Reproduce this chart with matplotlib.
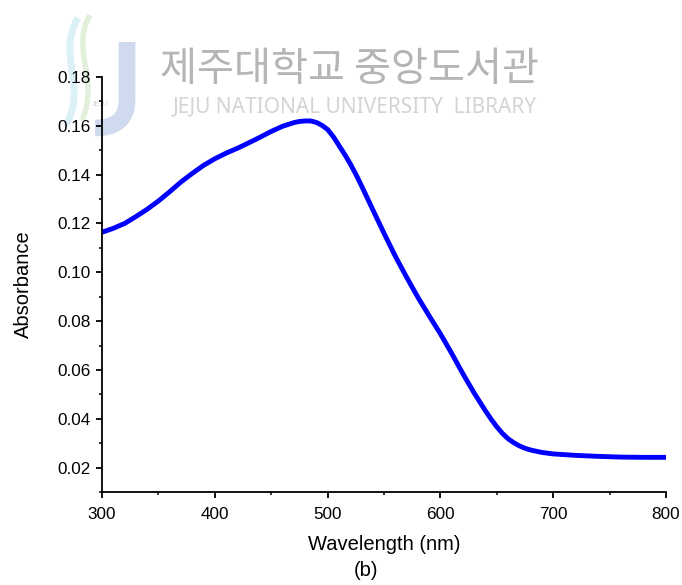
import matplotlib
matplotlib.use("Agg")
import matplotlib.pyplot as plt
from matplotlib.path import Path
from matplotlib.patches import PathPatch
from matplotlib.ticker import MultipleLocator

plt.rcParams['font.family'] = ['Liberation Sans', 'DejaVu Sans']

# Absorption spectrum
wavelength = [300, 310, 320, 330, 340, 350, 360, 370, 380, 390,
              400, 410, 420, 430, 440, 450, 460, 470, 475, 480,
              485, 490, 495, 500, 505, 510, 515, 520, 525, 530,
              540, 550, 560, 570, 580, 590, 600, 610, 620, 630,
              640, 645, 650, 655, 660, 665, 670, 675, 680, 690,
              700, 720, 740, 760, 780, 800]
absorbance = [0.1164, 0.1180, 0.1200, 0.1228, 0.1258, 0.1292, 0.1330, 0.1370, 0.1405, 0.1438,
              0.1465, 0.1488, 0.1508, 0.1530, 0.1553, 0.1577, 0.1598, 0.1613, 0.1618, 0.1620,
              0.1620, 0.1614, 0.1602, 0.1585, 0.1556, 0.1520, 0.1484, 0.1445, 0.1402, 0.1355,
              0.1257, 0.1160, 0.1066, 0.0980, 0.0898, 0.0822, 0.0748, 0.0668, 0.0584, 0.0505,
              0.0432, 0.0398, 0.0367, 0.0340, 0.0318, 0.0302, 0.0289, 0.0279, 0.0272, 0.0262,
              0.0256, 0.0250, 0.0246, 0.0243, 0.0242, 0.0242]

x_ticks = [300, 400, 500, 600, 700, 800]
y_ticks = [0.02, 0.04, 0.06, 0.08, 0.10, 0.12, 0.14, 0.16, 0.18]

W, H = 682, 585
fig = plt.figure(figsize=(W / 100, H / 100), dpi=100)


def fx(px):
    return px / W


def fy(py):
    return 1 - py / H


# Library watermark, drawn behind the axes
wave1 = Path([(fx(78), fy(18)), (fx(56), fy(55)), (fx(88), fy(85)), (fx(66), fy(125))],
             [Path.MOVETO, Path.CURVE4, Path.CURVE4, Path.CURVE4])
wave2 = Path([(fx(90), fy(15)), (fx(70), fy(50)), (fx(100), fy(80)), (fx(82), fy(120))],
             [Path.MOVETO, Path.CURVE4, Path.CURVE4, Path.CURVE4])
j_shape = Path([(fx(127), fy(42)), (fx(127), fy(100)), (fx(127), fy(128)), (fx(95), fy(128))],
               [Path.MOVETO, Path.LINETO, Path.CURVE3, Path.CURVE3])
for p, c, lw in [(wave1, '#dcf0f7', 5), (wave2, '#e2f0db', 4), (j_shape, '#d0daee', 12)]:
    fig.patches.append(PathPatch(p, transform=fig.transFigure, facecolor='none',
                                 edgecolor=c, lw=lw, capstyle='butt', zorder=0))
fig.text(fx(100), fy(104), 'JEJU', fontsize=5, color='#d0d0d0', ha='center', va='center', zorder=0)
fig.text(fx(350), fy(70), '제주대학교 중앙도서관', fontsize=29, color='#b5b5b5',
         ha='center', va='center', family=['Noto Sans CJK KR', 'DejaVu Sans'], zorder=0)
fig.text(fx(355), fy(107), 'JEJU NATIONAL UNIVERSITY  LIBRARY', fontsize=15, color='#d4d4d4',
         ha='center', va='center', family=['Noto Sans', 'DejaVu Sans'], zorder=0)

ax = fig.add_axes([102 / W, 1 - 492 / H, (666 - 102) / W, (492 - 77) / H])
ax.set_zorder(2)
ax.patch.set_alpha(0)

ax.plot(wavelength, absorbance, color='#0000ff', lw=3.5, solid_capstyle='butt')

ax.set_xlim(300, 800)
ax.set_ylim(0.01, 0.18)
ax.set_xticks(x_ticks)
ax.set_yticks(y_ticks)
ax.set_yticklabels([f'{v:.2f}' for v in y_ticks])
ax.xaxis.set_minor_locator(MultipleLocator(50))
ax.yaxis.set_minor_locator(MultipleLocator(0.01))

for side in ['top', 'right']:
    ax.spines[side].set_visible(False)
for side in ['left', 'bottom']:
    ax.spines[side].set_linewidth(1.3)

ax.tick_params(which='major', direction='out', length=4.5, width=1.3, labelsize=12.3, pad=3.5)
ax.tick_params(axis='x', which='major', pad=6.5)
ax.tick_params(which='minor', direction='out', length=2.5, width=1.1)

ax.set_xlabel('Wavelength (nm)', fontsize=14.5, labelpad=9)
ax.set_ylabel('Absorbance', fontsize=14.5, labelpad=18)
fig.text(fx(366), fy(570), '(b)', fontsize=14.5, ha='center', va='center')

fig.savefig('out.png', dpi=100)
